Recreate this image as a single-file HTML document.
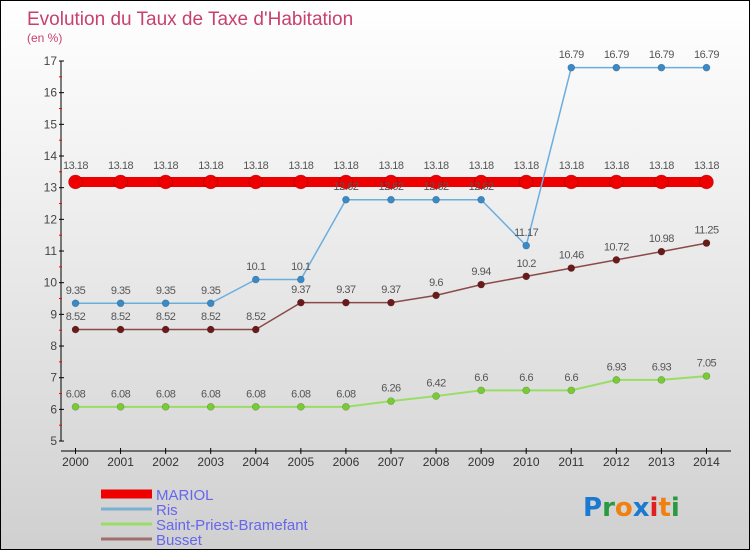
<!DOCTYPE html>
<html><head><meta charset="utf-8">
<style>
body{margin:0}
#wrap{width:748px;height:548px;border:1px solid #000;background:linear-gradient(#ffffff,#f4f4f4 25%,#d0d0d0);position:relative;overflow:hidden;font-family:"Liberation Sans",sans-serif}
svg{position:absolute;left:0;top:0}
</style></head><body>
<div id="wrap">
<svg id="chart" width="748" height="548"></svg>
</div>
<script>
const years=[2000,2001,2002,2003,2004,2005,2006,2007,2008,2009,2010,2011,2012,2013,2014];
const mariol=[13.18,13.18,13.18,13.18,13.18,13.18,13.18,13.18,13.18,13.18,13.18,13.18,13.18,13.18,13.18];
const ris=[9.35,9.35,9.35,9.35,10.1,10.1,12.62,12.62,12.62,12.62,11.17,16.79,16.79,16.79,16.79];
const stpriest=[6.08,6.08,6.08,6.08,6.08,6.08,6.08,6.26,6.42,6.6,6.6,6.6,6.93,6.93,7.05];
const busset=[8.52,8.52,8.52,8.52,8.52,9.37,9.37,9.37,9.6,9.94,10.2,10.46,10.72,10.98,11.25];
const yTicks=[5,6,7,8,9,10,11,12,13,14,15,16,17];
const legendNames=["MARIOL","Ris","Saint-Priest-Bramefant","Busset"];

const NS="http://www.w3.org/2000/svg";
const svg=document.getElementById('chart');
function X(i){return 74.5+i*45.07;}
function Y(v){return 60+(17-v)*31.67;}
function mk(tag,attrs,parent){const e=document.createElementNS(NS,tag);for(const k in attrs)e.setAttribute(k,attrs[k]);(parent||svg).appendChild(e);return e;}
function txt(x,y,s,attrs,name){const t=mk('text',Object.assign({x:x,y:y},attrs));t.textContent=s;return t;}

let t=txt(26,24,"Evolution du Taux de Taxe d'Habitation",{fill:'#c8406c','font-size':19},'chart-title');
t=txt(26,41,"(en %)",{fill:'#c8406c','font-size':12},'y-unit-label');

let a=mk('line',{x1:60,y1:60,x2:60,y2:440,stroke:'#000','stroke-width':1});

a=mk('line',{x1:60,y1:450,x2:730,y2:450,stroke:'#000','stroke-width':1});

yTicks.forEach(v=>{
  const tk=mk('line',{x1:58,y1:Y(v),x2:63,y2:Y(v),stroke:'#000'});
  
  txt(56,Y(v)+4,String(v),{fill:'#444','font-size':12,'text-anchor':'end'},'y-tick-label');
  if(v<17){const m=mk('line',{x1:58,y1:Y(v+0.5),x2:61,y2:Y(v+0.5),stroke:'#f00'});
  }
});
years.forEach((yr,i)=>{
  const tk=mk('line',{x1:X(i),y1:447,x2:X(i),y2:453,stroke:'#000'});
  
  txt(X(i),465,String(yr),{fill:'#333','font-size':12,'text-anchor':'middle'},'x-tick-label');
});

function series(data,color,width,r,dot,name){
  const g=mk('g',{});
  
  const pts=data.map((v,i)=>X(i)+','+Y(v)).join(' ');
  const l=mk('polyline',{points:pts,fill:'none',stroke:color,'stroke-width':width},g);
  
  data.forEach((v,i)=>{
    const c=mk('circle',{cx:X(i),cy:Y(v),r:r,fill:dot,stroke:'rgba(0,0,0,0.25)','stroke-width':0.6},g);
    
    const tt=mk('text',{x:X(i),y:Y(v)-(r+6),fill:'#555','font-size':11,'text-anchor':'middle','letter-spacing':'-0.5'},g);
    tt.textContent=String(v);
    
  });
}
series(mariol,'#ee0000',10,7,'#ee0000','mariol');
series(stpriest,'#99dd66',2,3.5,'#77cc33','saint-priest');
series(busset,'#8b4a4a',1.5,3.5,'#6b1a1a','busset');
series(ris,'#6aaee0',1.5,3.5,'#3a8ac8','ris');

const lc=['#ee0000','#7ab0d0','#99dd66','#a07070'];const lw=[9,3,3,3];
legendNames.forEach((n,i)=>{
  const y=492+i*15;
  const l=mk('line',{x1:100,y1:y+1,x2:151,y2:y+1,stroke:lc[i],'stroke-width':lw[i]});
  
  txt(155,y+7,n,{fill:'#6666ee','font-size':15},'legend-entry');
});

const logo=mk('text',{x:582,y:515,'font-size':26,'font-family':'"DejaVu Sans",sans-serif','font-weight':'bold'});

[['P','#1a7ad0'],['r','#2a9a40'],['o','#f08010'],['x','#1a7ad0'],['i','#e02020'],['t','#f08010'],['i','#2a9a40']].forEach(([c,col])=>{
  const s=mk('tspan',{fill:col},logo);s.textContent=c;
});
</script>
</body></html>
